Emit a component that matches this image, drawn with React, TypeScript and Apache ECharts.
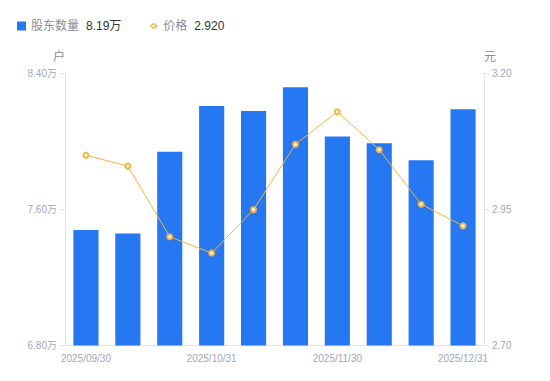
import React, { useEffect, useRef } from "react";
import * as echarts from "echarts";

const categories = [
  "2025/09/30", "2025/10/10", "2025/10/20", "2025/10/31", "2025/11/10",
  "2025/11/20", "2025/11/30", "2025/12/10", "2025/12/20", "2025/12/31",
];
const holders = [74800, 74600, 79400, 82100, 81800, 83200, 80300, 79900, 78900, 81900];
const prices = [3.05, 3.03, 2.90, 2.87, 2.95, 3.07, 3.13, 3.06, 2.96, 2.92];
const legendValues: Record<string, string> = { "股东数量": "8.19万", "价格": "2.920" };

const labelColor = "#a3a6b4";
const lineColor = "#e3e4ea";
const orange = "#f7b23f";
const lineIcon =
  "path://M0,4.4 H2.6 V5.6 H0 Z M7.4,4.4 H10 V5.6 H7.4 Z M5,1.9 A3.1,3.1 0 1,1 4.99,1.9 Z M5,3.4 A1.6,1.6 0 1,0 5.01,3.4 Z";

export default function App() {
  const ref = useRef<HTMLDivElement>(null);
  useEffect(() => {
    document.body.style.margin = "0";
    const chart = echarts.init(ref.current!, undefined, { renderer: "svg" });
    chart.setOption({
      animation: false,
      textStyle: { fontFamily: "'Liberation Sans', 'Noto Sans CJK SC', sans-serif" },
      legend: {
        left: 12,
        top: 15,
        itemWidth: 9,
        itemHeight: 9,
        itemGap: 28,
        data: [
          { name: "股东数量", icon: "rect" },
          { name: "价格", icon: lineIcon, itemStyle: { color: orange, borderWidth: 0 } },
        ],
        formatter: (name: string) => `{n|${name}}{v|${legendValues[name]}}`,
        textStyle: {
          rich: {
            n: { color: "#8a8d99", fontSize: 12 },
            v: { color: "#333333", fontSize: 12, padding: [0, 0, 0, 7] },
          },
        },
      },
      grid: { left: 65, right: 66, top: 73.7, bottom: 35.5, containLabel: false },
      xAxis: {
        type: "category",
        data: categories,
        axisTick: { show: false },
        axisLine: { lineStyle: { color: lineColor } },
        axisLabel: { color: labelColor, fontSize: 10, interval: 2, margin: 8 },
      },
      yAxis: [
        {
          type: "value",
          name: "户",
          nameLocation: "end",
          nameGap: 11,
          nameTextStyle: { color: "#8a8d99", fontSize: 12, align: "right" },
          min: 68000,
          max: 84000,
          interval: 8000,
          splitLine: { show: false },
          axisLine: { show: true, lineStyle: { color: lineColor } },
          axisTick: { show: true, length: 5, lineStyle: { color: lineColor } },
          axisLabel: {
            color: labelColor,
            fontSize: 10,
            formatter: (v: number) => (v / 10000).toFixed(2) + "万",
          },
        },
        {
          type: "value",
          name: "元",
          nameLocation: "end",
          nameGap: 11,
          nameTextStyle: { color: "#8a8d99", fontSize: 12, align: "left" },
          min: 2.7,
          max: 3.2,
          interval: 0.25,
          splitLine: { show: false },
          axisLine: { show: true, lineStyle: { color: lineColor } },
          axisTick: { show: true, length: 5, lineStyle: { color: lineColor } },
          axisLabel: {
            color: labelColor,
            fontSize: 10,
            formatter: (v: number) => v.toFixed(2),
          },
        },
      ],
      series: [
        {
          name: "股东数量",
          type: "bar",
          data: holders,
          barWidth: "60%",
          itemStyle: { color: "#2678f2" },
        },
        {
          name: "价格",
          type: "line",
          yAxisIndex: 1,
          data: prices,
          symbol: "emptyCircle",
          symbolSize: 5,
          lineStyle: { color: orange, width: 1 },
          itemStyle: { color: orange, borderWidth: 2 },
        },
      ],
    });
    return () => chart.dispose();
  }, []);
  return <div ref={ref} style={{ width: 550, height: 381 }} />;
}
